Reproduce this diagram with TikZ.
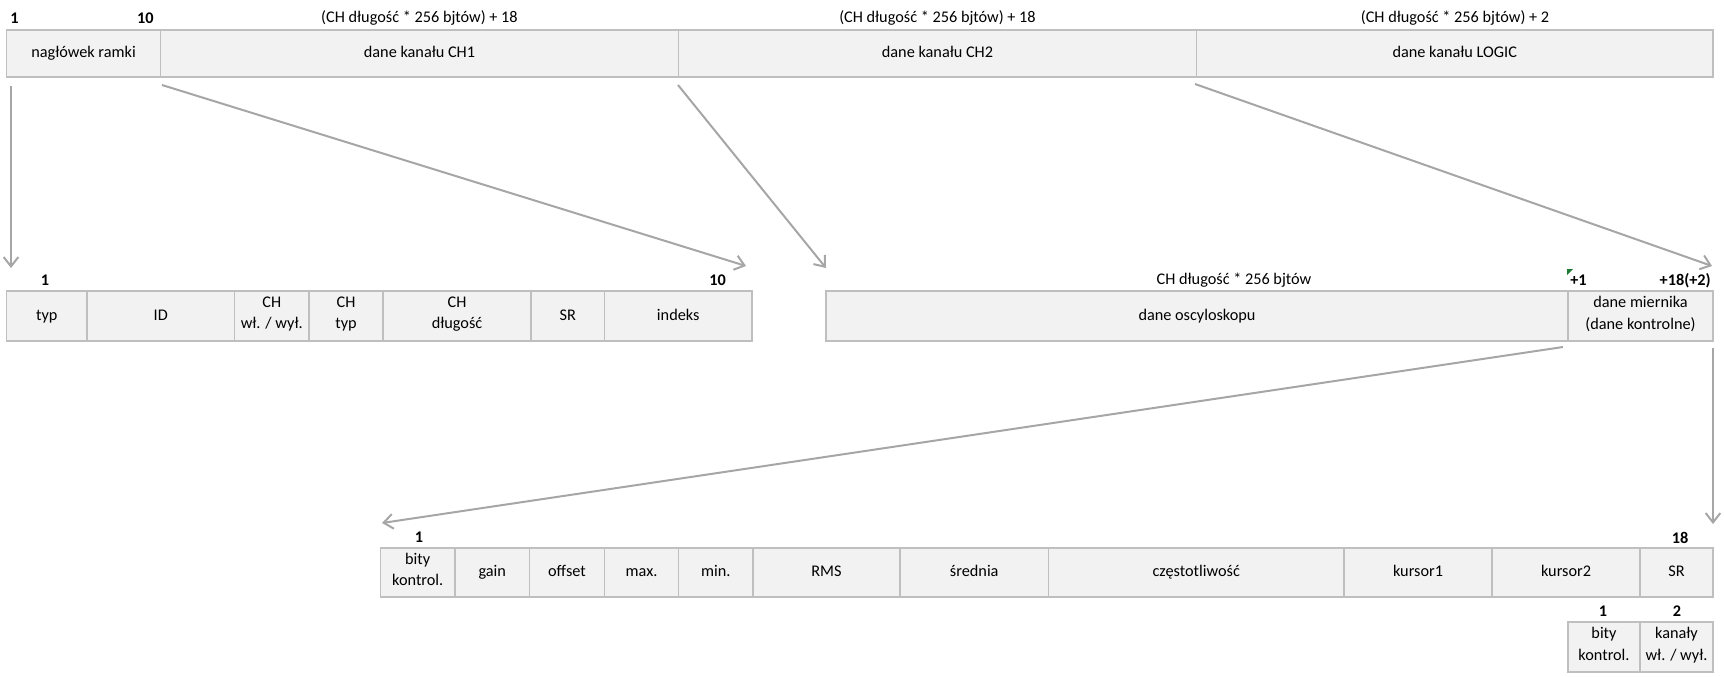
\documentclass[tikz,border=0pt]{standalone}
\usepackage{fontspec}
\setmainfont{Carlito}
\usetikzlibrary{arrows.meta}
\definecolor{cellfill}{HTML}{F2F2F2}
\definecolor{cellline}{HTML}{BFBFBF}
\definecolor{arrowgray}{HTML}{A6A6A6}
\definecolor{markgreen}{HTML}{1E7B34}
\newcommand\cellnode[6]{\node[cellbox, minimum width={(#3-#2)*0.75pt}, minimum height={(#5-#4)*0.75pt}] (#1) at ({(#2+#3)/2},{(#4+#5)/2}) {#6};}
\tikzset{
  basefont/.style={font=\fontsize{12.2}{16.3}\selectfont},
  cellbox/.style={basefont, draw=cellline, fill=cellfill, line width=0.8pt, inner sep=0pt, outer sep=0pt, align=center, text=black, execute at begin node=\strut, execute at end node=\strut},
  lbl/.style={basefont, inner sep=0pt, text=black},
  num/.style={font=\fontsize{12.2}{16.3}\selectfont\bfseries, inner sep=0pt, text=black},
  arr/.style={draw=arrowgray, line width=1.5pt, -{Straight Barb[length=7pt,width=11pt]}}
}
\begin{document}
\begin{tikzpicture}[x=0.75pt,y=-0.75pt]
\useasboundingbox (0,0) rectangle (1724,676);
% row 1
\cellnode{hdr}{6.5}{160.5}{30}{77}{nagłówek ramki}
\cellnode{ch1}{160.5}{678.5}{30}{77}{dane kanału CH1}
\cellnode{ch2}{678.5}{1196.5}{30}{77}{dane kanału CH2}
\cellnode{logic}{1196.5}{1713}{30}{77}{dane kanału LOGIC}
\node[num, anchor=west] (n1) at (10,18) {1};
\node[num, anchor=east] (n10) at (154,18) {10};
\node[lbl] (t1) at (419.5,18) {(CH długość * 256 bjtów) + 18};
\node[lbl] (t2) at (937.5,18) {(CH długość * 256 bjtów) + 18};
\node[lbl] (t3) at (1455,18) {(CH długość * 256 bjtów) + 2};
% row 2 left
\cellnode{typ}{6.5}{87}{291}{341}{typ}
\cellnode{id}{87}{234.5}{291}{341}{ID}
\cellnode{chon}{234.5}{309}{291}{341}{CH\\wł. / wył.}
\cellnode{chtyp}{309}{383}{291}{341}{CH\\typ}
\cellnode{chlen}{383}{531}{291}{341}{CH\\długość}
\cellnode{sr}{531}{604.5}{291}{341}{SR}
\cellnode{idx}{604.5}{752}{291}{341}{indeks}
\node[num] (m1) at (45,280.5) {1};
\node[num, anchor=east] (m10) at (726,280.5) {10};
% row 2 right
\cellnode{osc}{826}{1568}{291}{341}{dane oscyloskopu}
\cellnode{meter}{1568}{1713}{291}{341}{dane miernika\\(dane kontrolne)}
\node[lbl] (t4) at (1234,280.5) {CH długość * 256 bjtów};
\node[num, anchor=west] (p1) at (1570,280.5) {+1};
\node[num, anchor=east] (p18) at (1711,280.5) {+18(+2)};
\fill[markgreen] (1567,269) -- (1573,269) -- (1567,275) -- cycle;
% row 3
\cellnode{bk}{380.5}{455}{548}{597}{bity\\kontrol.}
\cellnode{gain}{455}{529.5}{548}{597}{gain}
\cellnode{offset}{529.5}{604.5}{548}{597}{offset}
\cellnode{max}{604.5}{678.5}{548}{597}{max.}
\cellnode{min}{678.5}{753}{548}{597}{min.}
\cellnode{rms}{753}{900}{548}{597}{RMS}
\cellnode{avg}{900}{1048.5}{548}{597}{średnia}
\cellnode{freq}{1048.5}{1344}{548}{597}{częstotliwość}
\cellnode{kA}{1344}{1492}{548}{597}{kursor1}
\cellnode{kB}{1492}{1640}{548}{597}{kursor2}
\cellnode{srB}{1640}{1713}{548}{597}{SR}
\node[num] (r1) at (419,537.5) {1};
\node[num] (r18) at (1680,537.5) {18};
% bottom
\cellnode{bb}{1568}{1640}{622}{672}{bity\\kontrol.}
\cellnode{kan}{1640}{1713}{622}{672}{kanały\\wł. / wył.}
\node[num] (b1) at (1603,611.5) {1};
\node[num] (b2) at (1677,611.5) {2};
% arrows
\coordinate (a1s) at (11,86);   \coordinate (a1e) at (11,268);
\coordinate (a2s) at (162,85);  \coordinate (a2e) at (746,266);
\coordinate (a3s) at (678,85);  \coordinate (a3e) at (826,268);
\coordinate (a4s) at (1195,84); \coordinate (a4e) at (1712,266);
\coordinate (a5s) at (1563,347);\coordinate (a5e) at (382,523);
\coordinate (a6s) at (1713,348);\coordinate (a6e) at (1713,524);
\draw[arr] (a1s) -- (a1e);
\draw[arr] (a2s) -- (a2e);
\draw[arr] (a3s) -- (a3e);
\draw[arr] (a4s) -- (a4e);
\draw[arr] (a5s) -- (a5e);
\draw[arr] (a6s) -- (a6e);
\end{tikzpicture}
\end{document}
